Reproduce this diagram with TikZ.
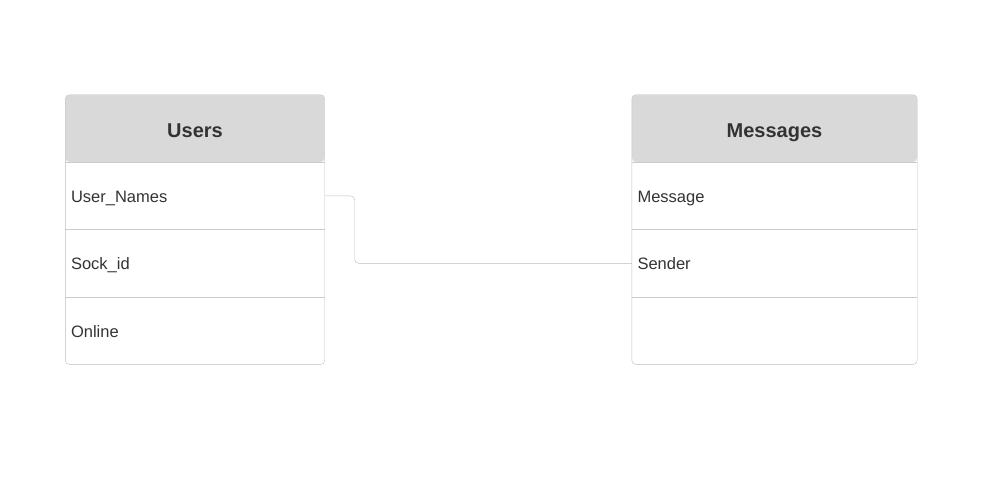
\documentclass[tikz,border=0pt]{standalone}
\usepackage{fontspec}
\setmainfont{Liberation Sans}
\usetikzlibrary{positioning}

\definecolor{headgray}{HTML}{D9D9D9}
\definecolor{framegray}{HTML}{BDBDBD}
\definecolor{sepgray}{HTML}{CCCCCC}
\definecolor{textgray}{HTML}{333333}

\begin{document}
\begin{tikzpicture}[x=1pt, y=-1pt]
    \tikzset{
        head/.style = {rectangle, fill=headgray, rounded corners=4pt, inner sep=0pt, minimum height=67pt, text height=21pt, text depth=4pt, text=textgray, font=\bfseries\fontsize{20}{24}\selectfont},
        row/.style = {rectangle, inner xsep=5.5pt, inner ysep=0pt, minimum height=67pt, text height=16pt, text depth=3pt, align=left, text=textgray, font=\fontsize{16.5}{20}\selectfont},
        frame/.style = {draw=framegray, thin, rounded corners=4pt},
        sep/.style = {draw=sepgray, thin},
        link/.style = {draw=framegray, thin, rounded corners=4pt},
    }
    \useasboundingbox (0,0) rectangle (1003,484);

    % Users table
    \node[head, minimum width=259pt](users) at (195,128.5){Users};
    \node[row, text width=248pt](usernames)[below = 0pt of users]{User\_Names};
    \node[row, text width=248pt](sockid)[below = 0pt of usernames]{Sock\_id};
    \node[row, text width=248pt](online)[below = 0pt of sockid]{Online};

    % Messages table
    \node[head, minimum width=285pt](messages) at (774.5,128.5){Messages};
    \node[row, text width=274pt](message)[below = 0pt of messages]{Message};
    \node[row, text width=274pt](sender)[below = 0pt of message]{Sender};
    \node[row, text width=274pt](msgempty)[below = 0pt of sender]{};

    \path [sep] (usernames.north west) -- (usernames.north east);
    \path [sep] (sockid.north west) -- (sockid.north east);
    \path [sep] (online.north west) -- (online.north east);
    \path [frame] (users.north west) rectangle (online.south east);

    \path [sep] (message.north west) -- (message.north east);
    \path [sep] (sender.north west) -- (sender.north east);
    \path [sep] (msgempty.north west) -- (msgempty.north east);
    \path [frame] (messages.north west) rectangle (msgempty.south east);

    \path [link] (usernames.east) -- ++(30,0) |- (sender.west);

\end{tikzpicture}
\end{document}
